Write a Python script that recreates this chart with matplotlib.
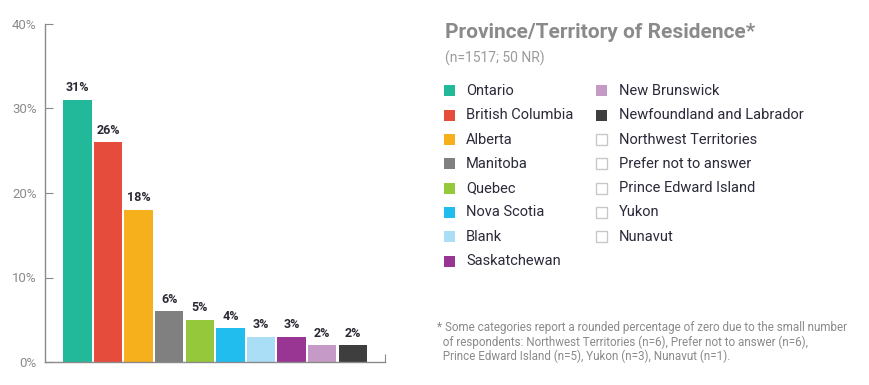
import matplotlib.pyplot as plt
from matplotlib.patches import Rectangle

# bars
provinces = ["Ontario", "British Columbia", "Alberta", "Manitoba", "Quebec",
             "Nova Scotia", "Blank", "Saskatchewan", "New Brunswick",
             "Newfoundland and Labrador"]
percents = [31, 26, 18, 6, 5, 4, 3, 3, 2, 2]
colors = ["#22b99a", "#e64c3c", "#f5b01c", "#808080", "#96c83c",
          "#22bdef", "#aadef6", "#993592", "#c69ac6", "#3e3e3e"]

# zero-percent categories (legend only)
zero_cats = ["Northwest Territories", "Prefer not to answer",
             "Prince Edward Island", "Yukon", "Nunavut"]

yticks = [0, 10, 20, 30, 40]

title = "Province/Territory of Residence*"
subtitle = "(n=1517; 50 NR)"
footnote = ["* Some categories report a rounded percentage of zero due to the small number",
            "  of respondents: Northwest Territories (n=6), Prefer not to answer (n=6),",
            "  Prince Edward Island (n=5), Yukon (n=3), Nunavut (n=1)."]

plt.rcParams['font.family'] = ['Roboto', 'DejaVu Sans']
W, H = 870, 385
fig = plt.figure(figsize=(W / 100, H / 100), dpi=100)
ax = fig.add_axes([45 / W, 1 - 362 / H, 340 / W, 338 / H])

x = list(range(len(percents)))
ax.bar(x, percents, width=0.93, color=colors)
for xi, p in zip(x, percents):
    ax.annotate(f"{p}%", (xi, p), xytext=(0, 4), textcoords="offset points",
                ha="center", va="bottom", fontsize=9, fontweight="bold",
                color="#2a2a35")

ax.set_xlim(-1.06, 10.05)
ax.set_ylim(0, 40)
ax.set_yticks(yticks)
ax.set_yticklabels([f"{t}%" for t in yticks], color="#8a8a8a", fontsize=9.5)
ax.tick_params(axis="y", direction="in", length=6, color="#8a8a8a", pad=6)
ax.set_xticks([10.05])
ax.set_xticklabels([""])
ax.tick_params(axis="x", direction="in", length=6, color="#8a8a8a")
for s in ["top", "right"]:
    ax.spines[s].set_visible(False)
for s in ["left", "bottom"]:
    ax.spines[s].set_color("#8a8a8a")
    ax.spines[s].set_linewidth(1)

# title block
fig.text(445 / W, 1 - 32 / H, title, fontsize=15, fontweight="bold",
         color="#8a8a8a", va="center", ha="left")
fig.text(445 / W, 1 - 58 / H, subtitle, fontsize=10, color="#9a9a9a",
         va="center", ha="left")

# legend
col1 = list(zip(provinces[:8], colors[:8], [True] * 8))
col2 = list(zip(provinces[8:], colors[8:], [True] * 2)) + \
    [(c, "white", False) for c in zero_cats]
row0, step, sq = 91, 24.3, 11
for cx, tx, items in [(444, 466, col1), (596, 619, col2)]:
    for i, (name, col, filled) in enumerate(items):
        yc = row0 + i * step
        fig.add_artist(Rectangle((cx / W, 1 - (yc + sq / 2) / H), sq / W, sq / H,
                                 transform=fig.transFigure,
                                 facecolor=col,
                                 edgecolor=col if filled else "#c8c8c8",
                                 linewidth=0 if filled else 1))
        fig.text(tx / W, 1 - yc / H, name, fontsize=10.5, color="#2a2a3a",
                 va="center", ha="left")

for i, line in enumerate(footnote):
    fig.text(437 / W, 1 - (327 + i * 14.8) / H, line, fontsize=8.4,
             color="#8a8a8a", va="center", ha="left")

fig.savefig("out.png", dpi=100)
